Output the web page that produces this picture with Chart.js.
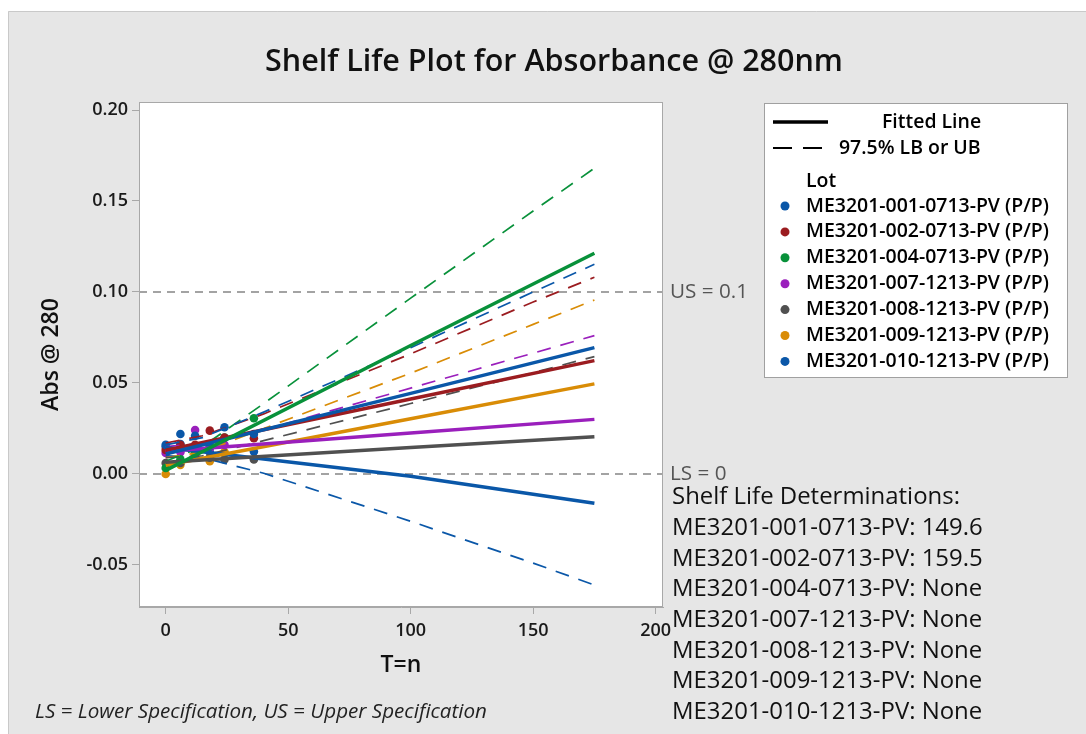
<!DOCTYPE html>
<html><head><meta charset="utf-8">
<script src="https://cdn.jsdelivr.net/npm/chart.js@4.4.1/dist/chart.umd.min.js"></script>
<style>html,body{margin:0;padding:0;background:#fff;}#wrap{position:relative;width:1086px;height:734px;}canvas{display:block;}</style>
</head><body><div id="wrap"><canvas id="c" width="1086" height="734"></canvas></div>
<script>
// ---------- data ----------
const lots = ['ME3201-001-0713-PV','ME3201-002-0713-PV','ME3201-004-0713-PV','ME3201-007-1213-PV','ME3201-008-1213-PV','ME3201-009-1213-PV','ME3201-010-1213-PV'];
const lotColors = ['#0a57a8','#9b1c20','#08913a','#9a1fbc','#505050','#d98c06','#0a57a8'];
const timePoints = [0, 6, 12, 18, 24, 36];
const obs001 = [0.016, 0.022, 0.021, 0.015, 0.0257, 0.022];
const obs002 = [0.0132, 0.016, 0.016, 0.0238, 0.020, 0.0196];
const obs004 = [0.0033, 0.008, 0.012, 0.015, 0.020, 0.0306];
const obs007 = [0.0115, 0.012, 0.0242, 0.014, 0.016, null];
const obs008 = [0.006, 0.006, 0.009, 0.009, 0.008, 0.008];
const obs009 = [0.000, 0.005, 0.010, 0.007, 0.012, null];
const obs010 = [0.015, 0.0165, 0.014, 0.012, 0.0115, 0.0123];
const fitTimes = [0, 100, 175];
const fit001 = [0.011, 0.0443, 0.0694];
const fit002 = [0.013, 0.0412, 0.0623];
const fit004 = [0.002, 0.0706, 0.1213];
const fit007 = [0.0125, 0.0225, 0.030];
const fit008 = [0.0065, 0.0145, 0.0205];
const fit009 = [0.0048, 0.0303, 0.0495];
const fit010 = [0.0145, -0.0013, -0.0161];
const boundTimes = [0, 15, 40, 100, 150, 175];
const ub001 = [0.016, 0.020, 0.034, 0.0694, 0.100, 0.1152];
const ub002 = [0.017, 0.021, 0.033, 0.066, 0.0945, 0.1081];
const ub004 = [0.007, 0.015, 0.0387, 0.0966, 0.1445, 0.168];
const ub007 = [0.015, 0.017, 0.0242, 0.0472, 0.0664, 0.076];
const ub008 = [0.009, 0.010, 0.0183, 0.0387, 0.0557, 0.0645];
const ub009 = [0.009, 0.012, 0.025, 0.0554, 0.0822, 0.0956];
const lb010 = [0.010, 0.009, 0.0004, -0.026, -0.049, -0.061];
const obsByLot = [obs001, obs002, obs004, obs007, obs008, obs009, obs010];
const fitByLot = [fit001, fit002, fit004, fit007, fit008, fit009, fit010];
const boundByLot = [ub001, ub002, ub004, ub007, ub008, ub009, lb010];
const shelfLife = ['149.6', '159.5', 'None', 'None', 'None', 'None', 'None'];
const xTicks = [0, 50, 100, 150, 200];
const yTicks = [-0.05, 0, 0.05, 0.10, 0.15, 0.20];
const xRange = [-10.9, 203];
const yRange = [-0.0731, 0.2044];
const specValues = [0.1, 0];
const specLabels = ['US = 0.1', 'LS = 0'];

// ---------- helpers ----------
const FAM = '"Open Sans", "Noto Sans", sans-serif';
const mctx = document.createElement('canvas').getContext('2d');
function fitSize(text, w, weight, style) {
  mctx.font = `${style||'normal'} ${weight||400} 100px ${FAM}`;
  return 100 * w / mctx.measureText(text).width;
}
const pairs = (xs, ys) => xs.map((x, i) => ({x, y: ys[i]})).filter(p => p.y !== null);

const datasets = [];
specValues.forEach(v => datasets.push({
  data: [{x: xRange[0], y: v}, {x: xRange[1], y: v}], showLine: true, pointRadius: 0,
  borderColor: '#a3a3a3', borderWidth: 2, borderDash: [8, 6], order: 5
}));
lots.forEach((lot, i) => {
  datasets.push({data: pairs(timePoints, obsByLot[i]), showLine: false, pointRadius: 4.3,
    pointBackgroundColor: lotColors[i], pointBorderWidth: 0, order: 3});
});
lots.forEach((lot, i) => {
  datasets.push({data: pairs(boundTimes, boundByLot[i]), showLine: true, pointRadius: 0,
    borderColor: lotColors[i], borderWidth: 1.7, borderDash: [14, 10], order: 2});
});
lots.forEach((lot, i) => {
  datasets.push({data: pairs(fitTimes, fitByLot[i]), showLine: true, pointRadius: 0,
    borderColor: lotColors[i], borderWidth: 3.5, order: i === 2 ? 0 : 1});
});

const deco = {
  id: 'deco',
  beforeDraw(chart) {
    const {ctx, chartArea: a} = chart;
    ctx.save();
    ctx.fillStyle = '#fff'; ctx.fillRect(0, 0, 1086, 734);
    ctx.fillStyle = '#e6e6e6'; ctx.fillRect(8, 11, 1078, 723);
    ctx.strokeStyle = '#c9c9c9'; ctx.lineWidth = 1;
    ctx.beginPath(); ctx.moveTo(8.5, 734); ctx.lineTo(8.5, 11.5); ctx.lineTo(1086, 11.5); ctx.stroke();
    ctx.fillStyle = '#fff'; ctx.fillRect(a.left, a.top, a.right - a.left, a.bottom - a.top);
    ctx.restore();
  },
  afterDraw(chart) {
    const {ctx, chartArea: a, scales} = chart;
    ctx.save();
    ctx.strokeStyle = '#a8a8a8'; ctx.lineWidth = 1;
    ctx.strokeRect(Math.round(a.left) + 0.5, Math.round(a.top) + 0.5, Math.round(a.right - a.left) - 1, Math.round(a.bottom - a.top) - 1);
    ctx.textBaseline = 'middle';
    // title
    const tt = 'Shelf Life Plot for Absorbance @ 280nm';
    ctx.fillStyle = '#111'; ctx.textAlign = 'center';
    ctx.font = `600 ${fitSize(tt, 578, 600)}px ${FAM}`;
    ctx.fillText(tt, 554, 62);
    // spec labels
    ctx.textAlign = 'left'; ctx.fillStyle = '#555';
    ctx.font = `400 ${fitSize(specLabels[0], 78, 400)}px ${FAM}`;
    specValues.forEach((v, i) => ctx.fillText(specLabels[i], 670, scales.y.getPixelForValue(v)));
    // shelf life
    ctx.fillStyle = '#111';
    const sl0 = lots[0] + ': ' + shelfLife[0];
    ctx.font = `400 ${fitSize(sl0, 311, 400)}px ${FAM}`;
    ctx.fillText('Shelf Life Determinations:', 672, 497);
    lots.forEach((lot, i) => ctx.fillText(lot + ': ' + shelfLife[i], 672, 528 + i * 30.7));
    // footnote
    const fn = 'LS = Lower Specification, US = Upper Specification';
    ctx.fillStyle = '#222';
    ctx.font = `italic 400 ${fitSize(fn, 452, 400, 'italic')}px ${FAM}`;
    ctx.fillText(fn, 35, 712);
    // legend
    ctx.fillStyle = '#fff'; ctx.fillRect(764, 103, 303, 274);
    ctx.strokeStyle = '#a0a0a0'; ctx.strokeRect(764.5, 103.5, 303, 274);
    ctx.strokeStyle = '#000'; ctx.lineWidth = 3.5;
    ctx.beginPath(); ctx.moveTo(773, 122); ctx.lineTo(828, 122); ctx.stroke();
    ctx.lineWidth = 2;
    ctx.beginPath(); ctx.moveTo(773, 148); ctx.lineTo(792, 148); ctx.moveTo(803, 148); ctx.lineTo(822, 148); ctx.stroke();
    ctx.fillStyle = '#000';
    const item0 = lots[0] + ' (P/P)';
    const ls = fitSize(item0, 243, 600);
    ctx.font = `600 ${ls}px ${FAM}`;
    ctx.fillText('Fitted Line', 882, 122);
    ctx.fillText('97.5% LB or UB', 839, 148);
    ctx.fillText('Lot', 806, 181);
    lots.forEach((lot, i) => {
      const y = 206 + i * 25.9;
      ctx.fillStyle = lotColors[i];
      ctx.beginPath(); ctx.arc(785, y, 4.5, 0, Math.PI * 2); ctx.fill();
      ctx.fillStyle = '#000';
      ctx.fillText(lot + ' (P/P)', 806, y);
    });
    ctx.restore();
  }
};

new Chart(document.getElementById('c'), {
  type: 'scatter',
  data: {datasets},
  options: {
    responsive: false, animation: false, devicePixelRatio: 1,
    layout: {padding: {left: 0, top: 102, right: 423, bottom: 0}},
    plugins: {legend: {display: false}, tooltip: {enabled: false}},
    scales: {
      x: {
        type: 'linear', min: xRange[0], max: xRange[1],
        afterBuildTicks: s => { s.ticks = xTicks.map(v => ({value: v})); },
        afterFit: s => { s.height = 127; },
        grid: {drawOnChartArea: false, drawTicks: true, tickLength: 7, color: '#a8a8a8'},
        border: {display: true, color: '#a8a8a8'},
        ticks: {color: '#1a1a1a', font: {family: FAM, size: 18, weight: 600}, padding: 6,
          callback: v => String(v), maxRotation: 0},
        title: {display: true, text: 'T=n', color: '#111', font: {family: FAM, size: 23, weight: 600},
          padding: {top: 0, bottom: 55}}
      },
      y: {
        type: 'linear', min: yRange[0], max: yRange[1],
        afterBuildTicks: s => { s.ticks = yTicks.map(v => ({value: v})); },
        afterFit: s => { s.width = 139; },
        grid: {drawOnChartArea: false, drawTicks: true, tickLength: 7, color: '#a8a8a8'},
        border: {display: true, color: '#a8a8a8'},
        ticks: {color: '#1a1a1a', font: {family: FAM, size: 18, weight: 600}, padding: 4,
          callback: v => v.toFixed(2)},
        title: {display: true, text: 'Abs @ 280', color: '#111', font: {family: FAM, size: 23, weight: 600},
          padding: {top: 38, bottom: 0}}
      }
    }
  },
  plugins: [deco]
});
</script></body></html>
